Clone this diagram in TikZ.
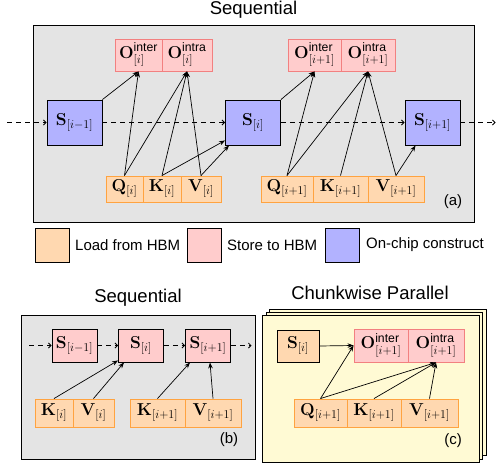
\documentclass[tikz,border=0pt]{standalone}
\usepackage{amsmath}
\usepackage[no-math]{fontspec}
\newfontfamily\hel{Liberation Sans}
\usetikzlibrary{arrows.meta}
\definecolor{loadfill}{RGB}{255,216,176}
\definecolor{loaddraw}{RGB}{255,163,64}
\definecolor{storefill}{RGB}{255,204,204}
\definecolor{storedraw}{RGB}{242,128,128}
\definecolor{chipfill}{RGB}{178,178,255}
\definecolor{panelgray}{RGB}{228,228,228}
\definecolor{cardyellow}{RGB}{255,250,212}
\newcommand\sx[1]{\text{\hel #1}}
\tikzset{
  box/.style={inner sep=0pt, font=\fontsize{17.5}{20}\selectfont, line width=0.9pt},
  load/.style={box, fill=loadfill, draw=loaddraw},
  store/.style={box, fill=storefill, draw=storedraw},
  chip/.style={box, fill=chipfill, draw=black},
  pinkS/.style={box, fill=storefill, draw=black},
  orangeS/.style={box, fill=loadfill, draw=black},
  arr/.style={-{Stealth[length=6pt,width=4.5pt]}, line width=0.7pt},
  darr/.style={dash pattern=on 5pt off 4pt, -{Straight Barb[length=2.5pt,width=5pt]}, line width=0.8pt},
  ttl/.style={font=\hel\fontsize{18.5}{22}\selectfont},
  lab/.style={font=\hel\fontsize{15}{18}\selectfont},
  panel/.style={fill=panelgray, draw=black, line width=0.9pt},
  card/.style={fill=cardyellow, draw=black, line width=0.9pt},
  legbox/.style={inner sep=0pt, minimum width=34pt, minimum height=34pt, line width=0.9pt}
}
\begin{document}
\begin{tikzpicture}[x=1pt,y=-1pt]
\useasboundingbox (0,0) rectangle (496,463);

% ---------------- (a) ----------------
\node[ttl] (ta) at (253.5,10) {Sequential};
\draw[panel] (33,25) rectangle (474,222);

\node[chip, minimum width=55pt, minimum height=45pt] (Sa0) at (74.5,122.5) {$\mathbf{S}_{[i-1]}$};
\node[chip, minimum width=55pt, minimum height=45pt] (Sa1) at (253,122.5) {$\mathbf{S}_{[i]}$};
\node[chip, minimum width=55pt, minimum height=45pt] (Sa2) at (432.5,122.5) {$\mathbf{S}_{[i+1]}$};

\node[store, minimum width=47pt, minimum height=32pt] (Oe1) at (138.5,55) {$\mathbf{O}^{\sx{inter}}_{[i]}$};
\node[store, minimum width=50pt, minimum height=32pt] (Oa1) at (187,55) {$\mathbf{O}^{\sx{intra}}_{[i]}$};
\node[store, minimum width=53pt, minimum height=32pt] (Oe2) at (314.5,55) {$\mathbf{O}^{\sx{inter}}_{[i+1]}$};
\node[store, minimum width=54pt, minimum height=32pt] (Oa2) at (368,55) {$\mathbf{O}^{\sx{intra}}_{[i+1]}$};

\node[load, minimum width=37pt, minimum height=26pt] (Q1) at (124.5,189) {$\mathbf{Q}_{[i]}$};
\node[load, minimum width=38pt, minimum height=26pt] (K1) at (162,189) {$\mathbf{K}_{[i]}$};
\node[load, minimum width=40pt, minimum height=26pt] (V1) at (201,189) {$\mathbf{V}_{[i]}$};
\node[load, minimum width=52pt, minimum height=26pt] (Q2) at (287,189) {$\mathbf{Q}_{[i+1]}$};
\node[load, minimum width=55pt, minimum height=26pt] (K2) at (340.5,189) {$\mathbf{K}_{[i+1]}$};
\node[load, minimum width=56pt, minimum height=26pt] (V2) at (396,189) {$\mathbf{V}_{[i+1]}$};

\coordinate (ain) at (7,122.5);
\coordinate (aout) at (495.5,122.5);
\draw[darr] (ain) -- (Sa0);
\draw[darr] (Sa0) -- (Sa1);
\draw[darr] (Sa1) -- (Sa2);
\draw[darr] (Sa2) -- (aout);

\draw[arr] (Sa0.north east) -- (Oe1.south);
\draw[arr] (Q1.north) -- (Oe1.south);
\draw[arr] (Q1.north) -- (Oa1.south);
\draw[arr] (K1.north) -- (Oa1.south);
\draw[arr] (V1.north) -- (Oa1.south);
\draw[arr] (K1.north) -- ([yshift=5pt]Sa1.south west);
\draw[arr] (V1.north) -- ([xshift=4pt]Sa1.south west);

\draw[arr] (Sa1.north east) -- (Oe2.south);
\draw[arr] (Q2.north) -- (Oe2.south);
\draw[arr] (Q2.north) -- (Oa2.south);
\draw[arr] (K2.north) -- (Oa2.south);
\draw[arr] (V2.north) -- (Oa2.south);
\draw[arr] (V2.north) -- ([xshift=11pt]Sa2.south west);

\node[lab] (la) at (453,202) {(a)};

% ---------------- legend ----------------
\node[legbox, fill=loadfill, draw=black] (lg1) at (52,245) {};
\node[lab, anchor=west, inner sep=0pt] (lt1) at (75,245) {Load from HBM};
\node[legbox, fill=storefill, draw=black] (lg2) at (204,245) {};
\node[lab, anchor=west, inner sep=0pt] (lt2) at (227,245) {Store to HBM};
\node[legbox, fill=chipfill, draw=black] (lg3) at (342.5,245) {};
\node[lab, anchor=west, inner sep=0pt] (lt3) at (366,245) {On-chip construct};

% ---------------- (b) ----------------
\node[ttl] (tb) at (138,298) {Sequential};
\draw[panel] (21,315) rectangle (255,459);

\node[pinkS, minimum width=45pt, minimum height=33pt] (Sb0) at (74.5,345.5) {$\mathbf{S}_{[i-1]}$};
\node[pinkS, minimum width=45pt, minimum height=33pt] (Sb1) at (141,345.5) {$\mathbf{S}_{[i]}$};
\node[pinkS, minimum width=45pt, minimum height=33pt] (Sb2) at (208,345.5) {$\mathbf{S}_{[i+1]}$};

\node[load, minimum width=38pt, minimum height=28pt] (Kb1) at (54,413) {$\mathbf{K}_{[i]}$};
\node[load, minimum width=41pt, minimum height=28pt] (Vb1) at (93.5,413) {$\mathbf{V}_{[i]}$};
\node[load, minimum width=55pt, minimum height=28pt] (Kb2) at (157.5,413) {$\mathbf{K}_{[i+1]}$};
\node[load, minimum width=56pt, minimum height=28pt] (Vb2) at (213,413) {$\mathbf{V}_{[i+1]}$};

\coordinate (bin) at (29,345.5);
\coordinate (bout) at (251.5,345.5);
\draw[darr] (bin) -- (Sb0);
\draw[darr] (Sb0) -- (Sb1);
\draw[darr] (Sb1) -- (Sb2);
\draw[darr] (Sb2) -- (bout);

\draw[arr] (Kb1.north) -- ([yshift=2pt]Sb1.south west);
\draw[arr] (Vb1.north) -- ([xshift=6pt]Sb1.south west);
\draw[arr] (Kb2.north) -- ([xshift=5pt]Sb2.south west);
\draw[arr] (Vb2.north) -- ([xshift=2pt]Sb2.south);

\node[lab] (lb) at (229,440) {(b)};

% ---------------- (c) ----------------
\node[ttl] (tc) at (370,293) {Chunkwise Parallel};
\draw[card] (269.3,309) rectangle (486,455.7);
\draw[card] (266,312.3) rectangle (482.7,459);
\draw[card] (262.7,315.7) rectangle (479.3,462.5);

\node[orangeS, minimum width=42pt, minimum height=32pt] (Sc) at (298,346) {$\mathbf{S}_{[i]}$};
\node[store, minimum width=54pt, minimum height=33pt] (Oce) at (381,345.5) {$\mathbf{O}^{\sx{inter}}_{[i+1]}$};
\node[store, minimum width=56pt, minimum height=33pt] (Oca) at (436,345.5) {$\mathbf{O}^{\sx{intra}}_{[i+1]}$};

\node[load, minimum width=53pt, minimum height=28pt] (Qc) at (320.5,413) {$\mathbf{Q}_{[i+1]}$};
\node[load, minimum width=54pt, minimum height=28pt] (Kc) at (374,413) {$\mathbf{K}_{[i+1]}$};
\node[load, minimum width=57pt, minimum height=28pt] (Vc) at (429.5,413) {$\mathbf{V}_{[i+1]}$};

\draw[arr] (Sc.east) -- (Oce.west);
\draw[arr] (Qc.north) -- (Oce.west);
\draw[arr] (Qc.north) -- (Oca.south);
\draw[arr] (Kc.north) -- (Oca.south);
\draw[arr] (Vc.north) -- (Oca.south);

\node[lab] (lc) at (453,441) {(c)};
\end{tikzpicture}
\end{document}
